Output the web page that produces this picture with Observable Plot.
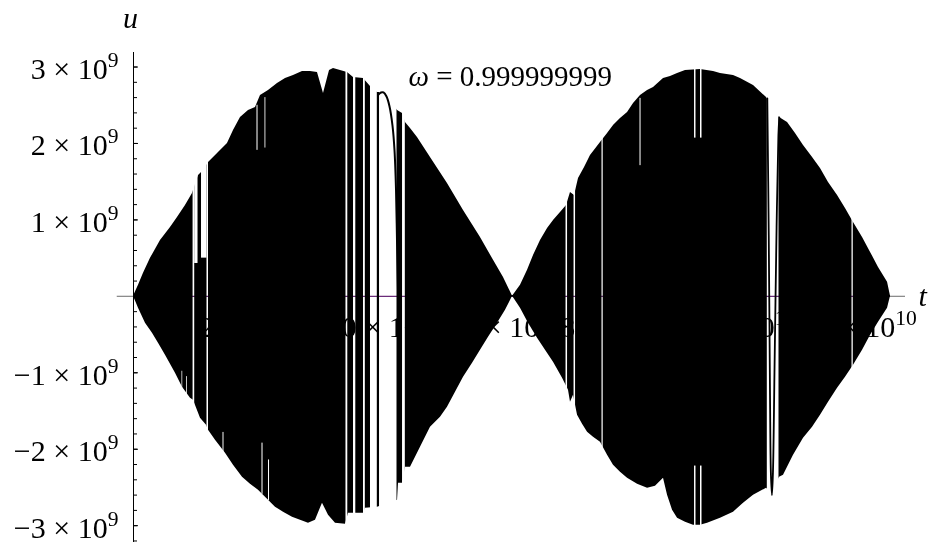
<!DOCTYPE html>
<html><head><meta charset="utf-8">
<script src="https://cdn.jsdelivr.net/npm/d3@7"></script>
<script src="https://cdn.jsdelivr.net/npm/@observablehq/plot@0.6"></script>
<style>
html,body{margin:0;padding:0;background:#fff;}
svg{display:block;}
svg text{font-family:'Liberation Serif','Times New Roman',serif;}
</style></head><body><div id="chart"></div>
<script>
// t in units of 1e9, u in units of 1e9
const upperT = [0,0.083,0.166,0.282,0.448,0.614,0.730,0.863,0.979,1.079,1.162,1.245,1.411,1.560,1.660,1.776,1.909,2.025,2.108,2.241,2.390,2.523,2.656,2.805,2.938,3.054,3.154,3.254,3.320,3.436,3.552,3.652,3.818,3.934,4.050,4.150,4.383,4.466,4.515,4.598,4.714,4.930,5.212,5.478,5.760,5.976,6.142,6.292,
  6.424,6.541,6.640,6.756,6.873,6.972,7.088,7.188,7.254,7.321,7.387,7.487,7.586,7.752,7.869,7.968,8.084,8.201,8.300,8.416,8.533,8.632,8.798,8.914,9.031,9.163,9.412,9.628,9.744,9.960,10.076,10.292,10.508,10.624,10.724,10.857,10.989,11.122,11.272,11.404,11.537,11.687,11.819,11.952,12.102,12.235,12.367,12.517,12.566];
const upperU = [0,0.144,0.301,0.497,0.732,0.902,1.033,1.190,1.346,1.582,1.647,1.752,1.882,1.999,2.170,2.340,2.431,2.471,2.627,2.693,2.784,2.850,2.889,2.941,2.941,2.928,2.654,2.954,2.980,2.954,2.928,2.863,2.850,2.745,2.667,2.667,2.431,2.392,2.275,2.196,2.078,1.817,1.477,1.124,0.771,0.471,0.248,0,
  0.144,0.340,0.536,0.732,0.889,0.993,1.098,1.190,1.359,1.320,1.542,1.686,1.843,2.013,2.131,2.235,2.327,2.405,2.523,2.627,2.693,2.732,2.850,2.876,2.915,2.954,2.967,2.941,2.915,2.889,2.850,2.758,2.601,2.431,2.340,2.275,2.131,1.974,1.817,1.673,1.490,1.320,1.150,0.967,0.771,0.575,0.379,0.183,0];

const lowerT = [0,0.083,0.199,0.315,0.415,0.531,0.697,0.813,0.946,0.996,1.112,1.212,1.245,1.361,1.527,1.660,1.809,1.942,2.075,2.208,2.357,2.490,2.639,2.772,2.905,3.021,3.137,3.237,3.353,3.519,3.569,3.818,3.851,4.050,4.383,4.399,4.466,4.515,4.598,4.764,4.930,5.096,5.212,5.345,5.478,5.628,5.760,5.893,6.043,6.175,6.292,
  6.424,6.557,6.707,6.839,6.972,7.122,7.221,7.254,7.304,7.371,7.454,7.537,7.636,7.752,7.869,7.968,8.084,8.201,8.367,8.533,8.665,8.798,8.865,8.948,9.031,9.163,9.296,9.412,9.529,9.744,9.960,10.126,10.292,10.508,10.591,10.724,10.790,10.956,11.122,11.272,11.404,11.537,11.687,11.819,11.952,12.102,12.235,12.367,12.517,12.566];
const lowerU = [0,-0.157,-0.353,-0.484,-0.614,-0.771,-1.007,-1.190,-1.333,-1.359,-1.595,-1.686,-1.752,-1.882,-2.052,-2.209,-2.366,-2.458,-2.536,-2.641,-2.758,-2.824,-2.889,-2.928,-2.967,-2.928,-2.706,-2.863,-2.967,-2.980,-2.837,-2.837,-2.771,-2.758,-2.667,-2.444,-2.444,-2.235,-2.235,-1.974,-1.712,-1.582,-1.451,-1.255,-1.059,-0.876,-0.706,-0.536,-0.353,-0.183,0,
  -0.157,-0.353,-0.549,-0.706,-0.863,-1.072,-1.229,-1.386,-1.294,-1.556,-1.673,-1.778,-1.843,-1.908,-2.078,-2.209,-2.301,-2.379,-2.458,-2.510,-2.484,-2.379,-2.601,-2.797,-2.902,-2.954,-2.993,-2.993,-2.967,-2.902,-2.824,-2.706,-2.601,-2.510,-2.575,-2.366,-2.340,-2.078,-1.856,-1.712,-1.556,-1.386,-1.203,-1.059,-0.902,-0.706,-0.510,-0.340,-0.157,0];

// white gaps in the dense oscillation: [t0, t1], [uLow, uHigh]
const gapT0 = [0.989,1.016,1.129,1.220,1.486,2.133,2.241,2.050,2.183,0.805,0.880,3.527,3.652,3.818,3.934,4.084,4.466,7.180,7.313,7.777,8.408,9.313,9.313,9.412,9.412,10.521,11.927];
const gapT1 = [1.016,1.071,1.220,1.245,1.502,2.150,2.258,2.067,2.197,0.817,0.893,3.557,3.690,3.848,4.047,4.374,4.512,7.205,7.338,7.797,8.425,9.337,9.337,9.437,9.437,10.715,11.948];
const gapLo = [-3.3,0.43,0.50,-3.3,-2.04,-2.59,-2.67,1.91,1.94,-1.27,-1.30,-3.3,-3.3,-3.3,-3.3,-3.3,-3.3,-3.3,-3.3,-3.3,1.71,2.07,-3.3,2.07,-3.3,-3.3,-3.3];
const gapHi = [3.3,3.3,3.3,3.3,-1.78,-1.92,-2.14,2.50,2.60,-0.98,-1.05,3.3,3.3,3.3,3.3,3.3,3.3,3.3,3.3,3.3,2.59,3.3,-2.22,3.3,-2.22,3.3,3.3];

// single resolved oscillations visible inside the gaps
const humpT = [4.067,4.109,4.150,4.200,4.250,4.299,4.333,4.358,4.374,4.391];
const humpU = [2.641,2.667,2.667,2.614,2.484,2.235,1.908,1.386,0.732,0.078];
const veeT = [10.521,10.545,10.566,10.580,10.598,10.615,10.640,10.675,10.705,10.720];
const veeU = [2.59,0.8,-1.3,-2.3,-2.6,-2.3,-1.0,0.9,2.1,2.34];

const yMajorTicks = [-3,-2,-1,0,1,2,3];
const yMinorTicks = d3.range(-16, 16).map(i => i / 5);
const yTickLabels = ["\u22123 \u00d7 10^9","\u22122 \u00d7 10^9","\u22121 \u00d7 10^9","1 \u00d7 10^9","2 \u00d7 10^9","3 \u00d7 10^9"];
const yTickLabelValues = [-3,-2,-1,1,2,3];
const xTickValues = [2,4,6,8,10,12];
const xTickLabels = ["2.0 \u00d7 10^9","4.0 \u00d7 10^9","6.0 \u00d7 10^9","8.0 \u00d7 10^9","1.0 \u00d7 10^10","1.2 \u00d7 10^10"];
const omegaLabel = "\u03c9 = 0.999999999";

const serif = "'Liberation Serif', 'Times New Roman', serif";
const up = upperT.map((t, i) => ({t, u: upperU[i]}));
const lo = lowerT.map((t, i) => ({t, u: lowerU[i]}));
const gaps = gapT0.map((t0, i) => ({t0, t1: gapT1[i], lo: gapLo[i], hi: gapHi[i]}));
const hump = humpT.map((t, i) => ({t, u: humpU[i]}));
const vee = veeT.map((t, i) => ({t, u: veeU[i]}));
const xLab = xTickValues.map((v, i) => ({v, label: xTickLabels[i]}));
const yLab = yTickLabelValues.map((v, i) => ({v, label: yTickLabels[i]}));

const plot = Plot.plot({
  width: 931, height: 542,
  marginLeft: 133, marginRight: 26, marginTop: 52, marginBottom: 0,
  x: {domain: [0, 12.815], axis: null},
  y: {domain: [-3.22, 3.19], axis: null},
  style: {background: "white", fontFamily: serif, overflow: "visible"},
  marks: [
    Plot.ruleY([0], {x1: -0.27, x2: 0, stroke: "#8c8c8c", strokeWidth: 1.3}),
    Plot.ruleY([0], {x1: 0, x2: 12.566, stroke: "#6b2c7a", strokeWidth: 1.3}),
    Plot.ruleY([0], {x1: 12.566, x2: 12.815, stroke: "#8c8c8c", strokeWidth: 1.3}),
    Plot.text(xLab, {x: "v", y: 0, text: "label", fontSize: 30, fontFamily: serif, lineAnchor: "bottom", dy: 41, fill: "black"}),
    Plot.areaY(up, {x: "t", y1: -0.01, y2: "u", fill: "black"}),
    Plot.areaY(lo, {x: "t", y1: 0.01, y2: "u", fill: "black"}),
    Plot.rect(gaps, {x1: "t0", x2: "t1", y1: "lo", y2: "hi", fill: "white"}),
    Plot.line(hump, {x: "t", y: "u", stroke: "black", strokeWidth: 2, curve: "catmull-rom"}),
    Plot.line(vee, {x: "t", y: "u", stroke: "black", strokeWidth: 1.8, curve: "catmull-rom"}),
    Plot.ruleX([0], {y1: -3.22, y2: 3.19, stroke: "black", strokeWidth: 1}),
    Plot.ruleY(yMinorTicks, {x1: 0, x2: 0, insetRight: -4, stroke: "black", strokeWidth: 1}),
    Plot.ruleY(yMajorTicks, {x1: 0, x2: 0, insetRight: -5, stroke: "black", strokeWidth: 1}),
    Plot.text(yLab, {x: 0, y: "v", text: "label", textAnchor: "end", dx: -15, lineAnchor: "bottom", dy: 12, fontSize: 30, fontFamily: serif, fill: "black"}),
    Plot.text(["u"], {frameAnchor: "top-left", textAnchor: "middle", dx: -3, dy: -25, lineAnchor: "bottom", fontSize: 30, fontStyle: "italic", fontFamily: serif, fill: "black"}),
    Plot.text(["t"], {frameAnchor: "right", textAnchor: "start", dx: 13, dy: 8, lineAnchor: "bottom", fontSize: 30, fontStyle: "italic", fontFamily: serif, fill: "black"}),
    Plot.text([omegaLabel], {frameAnchor: "top-left", textAnchor: "start", dx: 275, dy: 33, lineAnchor: "bottom", fontSize: 29, fontFamily: serif, fill: "black"})
  ]
});

// superscripts and italic omega
d3.select(plot).selectAll("text").each(function() {
  const s = this.textContent;
  const el = d3.select(this);
  el.style("font-family", serif);
  if (s.includes("^")) {
    const [base, exp] = s.split("^");
    el.text(null);
    el.append("tspan").style("font-family", serif).text(base);
    el.append("tspan").style("font-family", serif).attr("font-size", "0.72em").attr("dy", -12).text(exp);
  } else if (s.startsWith("\u03c9")) {
    el.text(null);
    el.append("tspan").style("font-family", serif).attr("font-style", "italic").text("\u03c9");
    el.append("tspan").style("font-family", serif).text(s.slice(1));
  }
});

// the dense curve (fill + gaps + resolved waves) composited as one layer over the tick labels
const fills = plot.querySelectorAll('g[aria-label="area"], g[aria-label="rect"], g[aria-label="line"]');
if (fills.length) {
  const g = document.createElementNS("http://www.w3.org/2000/svg", "g");
  g.setAttribute("style", "mix-blend-mode:multiply;isolation:isolate");
  fills[0].parentNode.insertBefore(g, fills[0]);
  fills.forEach(f => g.appendChild(f));
}

document.getElementById("chart").appendChild(plot);
</script>
</body></html>
